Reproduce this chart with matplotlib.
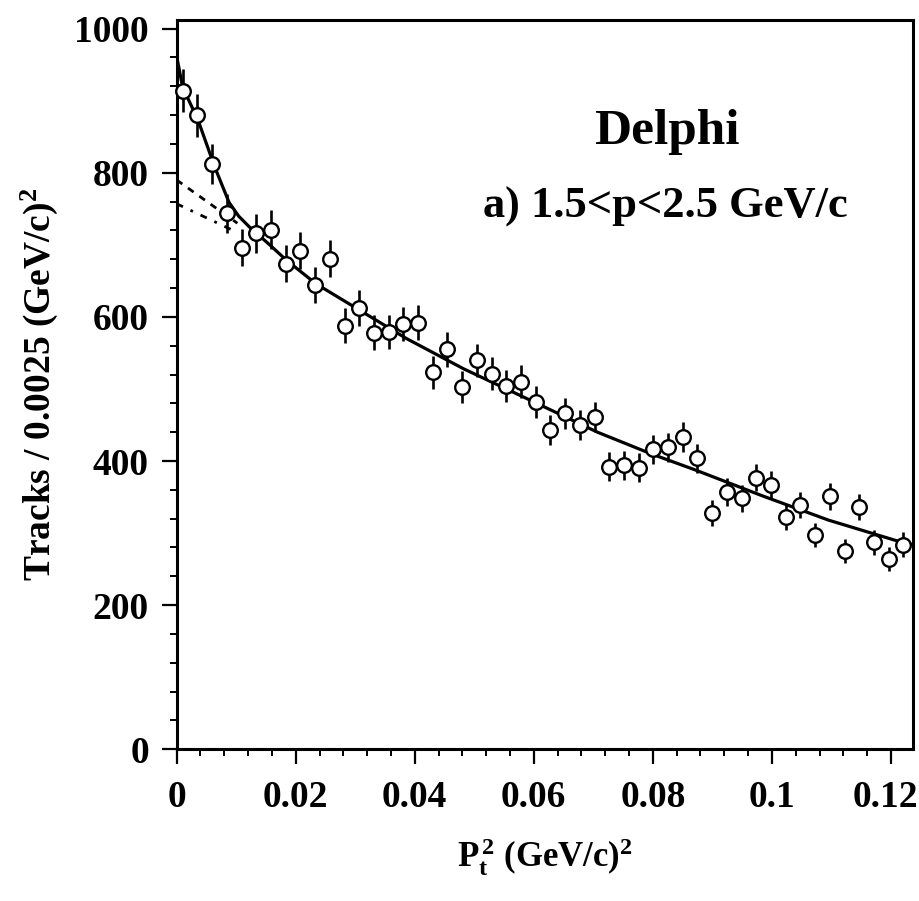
import matplotlib
matplotlib.use("Agg")
import matplotlib.pyplot as plt
import matplotlib.transforms as mtransforms
from matplotlib.ticker import MultipleLocator

pt2 = [0.0010, 0.0035, 0.0059, 0.0084, 0.0109, 0.0134, 0.0158, 0.0183, 0.0208, 0.0232,
       0.0257, 0.0282, 0.0306, 0.0331, 0.0356, 0.0381, 0.0405, 0.0430, 0.0455, 0.0479,
       0.0504, 0.0529, 0.0553, 0.0578, 0.0603, 0.0628, 0.0652, 0.0677, 0.0702, 0.0726,
       0.0751, 0.0776, 0.0800, 0.0825, 0.0850, 0.0874, 0.0899, 0.0924, 0.0949, 0.0973,
       0.0998, 0.1023, 0.1047, 0.1072, 0.1097, 0.1122, 0.1146, 0.1171, 0.1196, 0.1220]
tracks = [914, 880, 812, 744, 696, 716, 721, 674, 692, 644,
          681, 588, 612, 578, 579, 590, 592, 523, 555, 503,
          540, 521, 504, 510, 482, 443, 466, 450, 461, 392,
          394, 391, 416, 419, 433, 404, 328, 357, 348, 377,
          367, 322, 339, 297, 351, 275, 336, 287, 264, 284]
errors = [30, 30, 28, 27, 26, 27, 27, 26, 26, 25,
          26, 24, 25, 24, 24, 24, 24, 23, 24, 22,
          23, 23, 22, 23, 22, 21, 22, 21, 21, 20,
          20, 20, 20, 20, 21, 20, 18, 19, 19, 19,
          19, 18, 18, 17, 19, 17, 18, 17, 16, 17]

# fitted curve
fit_x = [0.0, 0.0010, 0.0036, 0.0064, 0.0088, 0.0104, 0.0122, 0.0155, 0.0184, 0.0234,
         0.0308, 0.0386, 0.0482, 0.0595, 0.0707, 0.0797, 0.0870, 0.0983, 0.1095, 0.1207, 0.1237]
fit_y = [962, 919, 873, 808, 759, 740, 725, 701, 679, 646,
         609, 570, 528, 484, 440, 410, 388, 352, 318, 290, 284]

# extrapolated slow components near pt^2 = 0
dash_upper_x = [0.0, 0.0102]
dash_upper_y = [790, 730]
dash_lower_x = [0.0, 0.0100]
dash_lower_y = [757, 718]

xtick_vals = [0, 0.02, 0.04, 0.06, 0.08, 0.1, 0.12]
xtick_labels = ['0', '0.02', '0.04', '0.06', '0.08', '0.1', '0.12']
ytick_vals = [0, 200, 400, 600, 800, 1000]

plt.rcParams['font.family'] = ['Liberation Serif', 'DejaVu Serif']
plt.rcParams['font.weight'] = 'bold'
plt.rcParams['mathtext.fontset'] = 'custom'
plt.rcParams['mathtext.rm'] = 'Liberation Serif:bold'
plt.rcParams['mathtext.it'] = 'Liberation Serif:bold'
plt.rcParams['mathtext.bf'] = 'Liberation Serif:bold'

fig = plt.figure(figsize=(9.2, 9.01), dpi=100)
ax = fig.add_axes([0.192, 0.1684, 0.8004, 0.8094])

ax.plot(fit_x, fit_y, color='black', linewidth=2.3, zorder=2)
ax.plot(dash_upper_x, dash_upper_y, color='black', linewidth=2.0,
        linestyle=(0, (2.5, 2.5)), zorder=2)
ax.plot(dash_lower_x, dash_lower_y, color='black', linewidth=2.0,
        linestyle=(0, (2.5, 3, 1, 3)), zorder=2)

ax.errorbar(pt2, tracks, yerr=errors, fmt='none', ecolor='black',
            elinewidth=1.9, capsize=0, zorder=3)
ax.plot(pt2, tracks, linestyle='none', marker='o', markersize=10.5,
        markerfacecolor='white', markeredgecolor='black', markeredgewidth=1.7,
        zorder=4, clip_on=False)

ax.set_xlim(0, 0.1237)
ax.set_ylim(0, 1012)
ax.set_xticks(xtick_vals)
ax.set_xticklabels(xtick_labels)
ax.set_yticks(ytick_vals)
ax.xaxis.set_minor_locator(MultipleLocator(0.004))
ax.yaxis.set_minor_locator(MultipleLocator(40))

ax.tick_params(axis='both', which='major', direction='out', length=11, width=1.6,
               labelsize=27, top=False, right=False)
ax.tick_params(axis='both', which='minor', direction='out', length=5, width=1.4,
               top=False, right=False)
ax.tick_params(axis='x', which='major', pad=11)
ax.tick_params(axis='y', which='major', pad=9)

# keep the last x label inside the figure, as in the original
last = ax.get_xticklabels()[-1]
last.set_transform(last.get_transform() +
                   mtransforms.ScaledTranslation(-6 / 100, 0, fig.dpi_scale_trans))

for spine in ax.spines.values():
    spine.set_linewidth(2.2)

ax.set_xlabel(r'P$_t^{\,2}$ (GeV/c)$^2$', fontsize=25, fontweight='bold', labelpad=16)
ax.set_ylabel(r'Tracks / 0.0025 (GeV/c)$^2$', fontsize=27, fontweight='bold', labelpad=10)

ax.text(0.665, 0.83, 'Delphi', transform=ax.transAxes, ha='center', va='baseline',
        fontsize=37, fontweight='bold')
ax.text(0.664, 0.729, 'a) 1.5<p<2.5 GeV/c', transform=ax.transAxes, ha='center',
        va='baseline', fontsize=32, fontweight='bold')

fig.savefig('out.png', dpi=100)
